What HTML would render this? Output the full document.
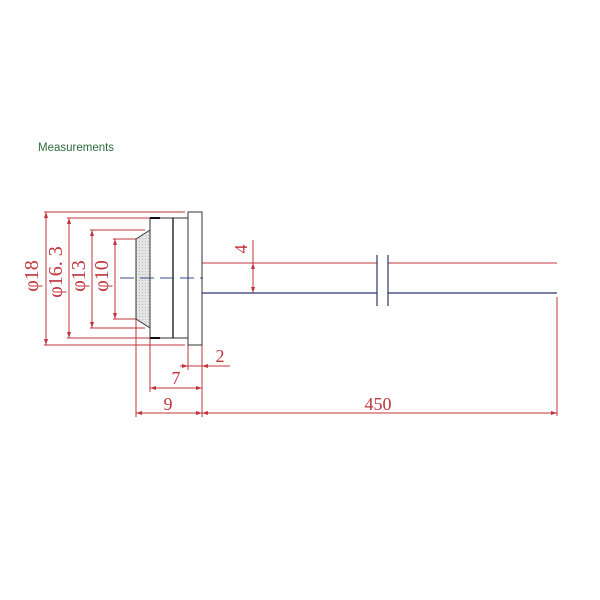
<!DOCTYPE html>
<html><head><style>body{margin:0;background:#fff}svg{display:block}</style></head><body>
<svg width="600" height="600" viewBox="0 0 600 600" xmlns="http://www.w3.org/2000/svg">
<defs>
<pattern id="dots" width="3" height="3" patternUnits="userSpaceOnUse"><rect width="3" height="3" fill="#e4e4e4"/><rect x="1" y="1" width="1" height="1" fill="#bbb"/></pattern>
</defs>
<text x="38" y="151" font-family="Liberation Sans, sans-serif" font-size="11.5" fill="#2e6b3a">Measurements</text>
<g stroke="#c0343c" stroke-width="1" fill="none">
<line x1="44" y1="212" x2="185" y2="212"/><line x1="44" y1="345" x2="185" y2="345"/>
<line x1="67" y1="218" x2="150" y2="218"/><line x1="67" y1="338" x2="150" y2="338"/>
<line x1="90" y1="230" x2="145" y2="230"/><line x1="90" y1="328" x2="145" y2="328"/>
<line x1="113" y1="239" x2="136" y2="239"/><line x1="113" y1="319" x2="136" y2="319"/>
<line x1="46" y1="212" x2="46" y2="345"/>
<line x1="69" y1="218" x2="69" y2="338"/>
<line x1="92" y1="230" x2="92" y2="328"/>
<line x1="115" y1="239" x2="115" y2="319"/>
<line x1="202" y1="263" x2="377" y2="263"/><line x1="388" y1="263" x2="557" y2="263"/>
<line x1="253" y1="240" x2="253" y2="293"/>
<line x1="557" y1="297" x2="557" y2="416"/>
<line x1="136" y1="319" x2="136" y2="417"/>
<line x1="150" y1="338" x2="150" y2="392"/>
<line x1="188" y1="345" x2="188" y2="370"/>
<line x1="202" y1="345" x2="202" y2="417"/>
<line x1="180" y1="366" x2="230" y2="366"/>
<line x1="150" y1="388" x2="202" y2="388"/>
<line x1="136" y1="413" x2="557" y2="413"/>
</g>
<g fill="#c0343c">
<polygon points="46,212 44,218 48,218"/><polygon points="46,345 44,339 48,339"/>
<polygon points="69,218 67,224 71,224"/><polygon points="69,338 67,332 71,332"/>
<polygon points="92,230 90,236 94,236"/><polygon points="92,328 90,322 94,322"/>
<polygon points="115,239 113,245 117,245"/><polygon points="115,319 113,313 117,313"/>
<polygon points="253,263 251,269 255,269"/><polygon points="253,293 251,287 255,287"/>
<polygon points="188,366 182,364 182,368"/><polygon points="202,366 208,364 208,368"/>
<polygon points="150,388 156,386 156,390"/><polygon points="202,388 196,386 196,390"/>
<polygon points="136,413 142,411 142,415"/><polygon points="202,413 196,411 196,415"/>
<polygon points="202,413 208,411 208,415"/><polygon points="557,413 551,411 551,415"/>
</g>
<g font-family="Liberation Serif, serif" font-size="20" fill="#c0343c">
<text transform="translate(38,276) rotate(-90)" text-anchor="middle">φ18</text>
<text transform="translate(62,272) rotate(-90)" text-anchor="middle">φ16. 3</text>
<text transform="translate(85,276) rotate(-90)" text-anchor="middle">φ13</text>
<text transform="translate(108,276) rotate(-90)" text-anchor="middle">φ10</text>
<text transform="translate(247,249) rotate(-90)" text-anchor="middle" font-size="18">4</text>
<text x="220" y="362" text-anchor="middle" font-size="18">2</text>
<text x="176" y="384" text-anchor="middle" font-size="18">7</text>
<text x="168" y="410" text-anchor="middle" font-size="18">9</text>
<text x="378" y="410" text-anchor="middle" font-size="18">450</text>
</g>
<polygon points="136,239 150,230 150,328 136,319" fill="url(#dots)" stroke="#333" stroke-width="1"/>
<rect x="150" y="218" width="38" height="120" fill="#fff" stroke="#333" stroke-width="1"/>
<line x1="150" y1="218" x2="160" y2="218" stroke="#111" stroke-width="2"/>
<line x1="150" y1="338" x2="160" y2="338" stroke="#111" stroke-width="2"/>
<line x1="173" y1="218" x2="173" y2="338" stroke="#111" stroke-width="1.3"/>
<rect x="188" y="212" width="14" height="133" fill="#fff" stroke="#333" stroke-width="1"/>
<line x1="120" y1="278" x2="203" y2="278" stroke="#3a4a8a" stroke-width="1" stroke-dasharray="14,6"/>
<g stroke="#2c3470" stroke-width="1.2">
<line x1="202" y1="293" x2="377" y2="293"/><line x1="388" y1="293" x2="557" y2="293"/>
<line x1="377" y1="255" x2="377" y2="306"/><line x1="388" y1="255" x2="388" y2="306"/>
</g>
</svg>
</body></html>
